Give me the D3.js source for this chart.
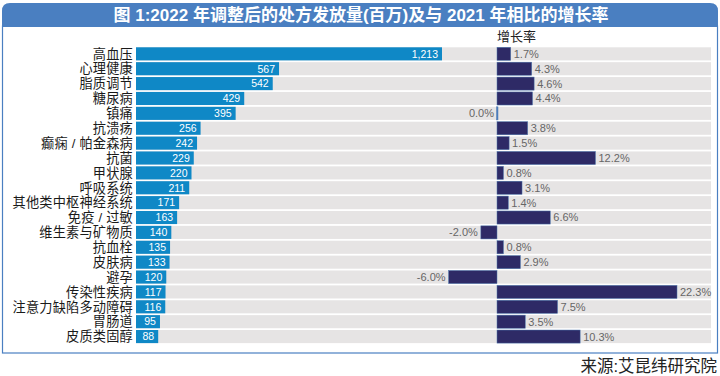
<!DOCTYPE html>
<html>
<head>
<meta charset="utf-8">
<script src="https://cdn.jsdelivr.net/npm/d3@7"></script>
<style>
  body { margin: 0; background: #fff; }
  svg { display: block; font-family: "Liberation Sans", "Noto Sans CJK SC", sans-serif; }
</style>
</head>
<body>
<div id="chart"></div>
<script>
// Data
const categories = ["高血压", "心理健康", "脂质调节", "糖尿病", "镇痛", "抗溃疡", "癫痫 / 帕金森病", "抗菌", "甲状腺", "呼吸系统",
  "其他类中枢神经系统", "免疫 / 过敏", "维生素与矿物质", "抗血栓", "皮肤病", "避孕", "传染性疾病", "注意力缺陷多动障碍", "胃肠道", "皮质类固醇"];
const volumes = [1213, 567, 542, 429, 395, 256, 242, 229, 220, 211, 171, 163, 140, 135, 133, 120, 117, 116, 95, 88];
const growth = [1.7, 4.3, 4.6, 4.4, 0.0, 3.8, 1.5, 12.2, 0.8, 3.1, 1.4, 6.6, -2.0, 0.8, 2.9, -6.0, 22.3, 7.5, 3.5, 10.3];
const titleText = "图 1:2022 年调整后的处方发放量(百万)及与 2021 年相比的增长率";
const growthTitle = "增长率";
const sourceText = "来源:艾昆纬研究院";

const W = 720, H = 376;
const svg = d3.select("#chart").append("svg").attr("width", W).attr("height", H);

// title bar + frame
svg.append("rect").attr("x", 2.5).attr("y", 26).attr("width", 715).attr("height", 327)
  .attr("fill", "#fff").attr("stroke", "#4a7fc1").attr("stroke-width", 1.2);
svg.append("path")
  .attr("d", "M2,27 L2,11 Q2,3 10,3 L710,3 Q718,3 718,11 L718,27 Z")
  .attr("fill", "#4a7fc1");
svg.append("text").attr("x", 361).attr("y", 20.5).attr("text-anchor", "middle")
  .attr("fill", "#fff").attr("font-weight", "bold").attr("font-size", 17)
  .text(titleText);

var y = d3.scaleBand().domain(categories).range([46.4, 344]).paddingInner(0.12).paddingOuter(0.06);
var x1 = d3.scaleLinear().domain([0, 1213]).range([136, 442]);
var x2 = d3.scaleLinear().domain([0, 22.3]).range([497, 677]);

var g = svg.append("g");

// gray row backgrounds
g.selectAll(".bg").data(categories).enter().append("rect")
  .attr("x", x1(0)).attr("y", d => y(d)).attr("width", 711 - x1(0)).attr("height", y.bandwidth())
  .attr("fill", "#e6e4e4");

// category labels
g.selectAll(".lab").data(categories).enter().append("text")
  .attr("x", 133).attr("y", d => y(d) + y.bandwidth() / 2).attr("dy", "0.36em")
  .attr("text-anchor", "end").attr("font-size", 13.2).attr("fill", "#1a1a1a")
  .attr("letter-spacing", 0.2)
  .text(d => d);

// volume bars
g.selectAll(".vbar").data(volumes).enter().append("rect")
  .attr("x", x1(0)).attr("y", (d, i) => y(categories[i]))
  .attr("width", d => x1(d) - x1(0)).attr("height", y.bandwidth())
  .attr("fill", "#0f88c6");

g.selectAll(".vlab").data(volumes).enter().append("text")
  .attr("x", d => x1(d) - 4).attr("y", (d, i) => y(categories[i]) + y.bandwidth() / 2).attr("dy", "0.36em")
  .attr("text-anchor", "end").attr("font-size", 10.5).attr("fill", "#fff")
  .text(d => d3.format(",")(d));

// growth bars
svg.append("text").attr("x", 497).attr("y", 41).attr("font-size", 13).attr("fill", "#222")
  .text(growthTitle);

g.selectAll(".gbar").data(growth).enter().append("rect")
  .attr("x", d => d === 0 ? x2(0) - 0.5 : Math.min(x2(0), x2(d)))
  .attr("y", (d, i) => y(categories[i]))
  .attr("width", d => d === 0 ? 1.5 : Math.abs(x2(d) - x2(0))).attr("height", y.bandwidth())
  .attr("fill", d => d === 0 ? "#4a7fc1" : "#2e2a66")
  .attr("stroke", "#4f7ab0").attr("stroke-width", 0.5);

g.selectAll(".glab").data(growth).enter().append("text")
  .attr("x", d => d > 0 ? x2(d) + 3 : Math.min(x2(d), x2(0)) - 3)
  .attr("y", (d, i) => y(categories[i]) + y.bandwidth() / 2).attr("dy", "0.36em")
  .attr("text-anchor", d => d > 0 ? "start" : "end")
  .attr("font-size", 11).attr("fill", "#666")
  .text(d => d.toFixed(1) + "%");

// source
svg.append("text").attr("x", 717).attr("y", 372).attr("text-anchor", "end")
  .attr("font-size", 16.5).attr("fill", "#222")
  .text(sourceText);
</script>
</body>
</html>
